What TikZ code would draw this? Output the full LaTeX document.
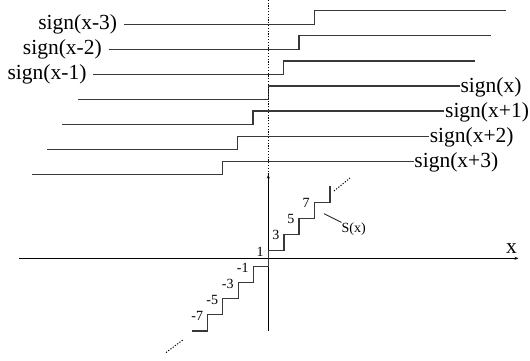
\documentclass[tikz,border=0pt]{standalone}
\usepackage{fontspec}
\setmainfont{Liberation Serif}
\usetikzlibrary{arrows.meta}
\begin{document}
\begin{tikzpicture}[x=1pt,y=-1pt,
  stepline/.style={line width=1.3pt, draw=black!78, line join=miter},
  axisline/.style={line width=1.2pt, draw=black},
  biglabel/.style={font=\fontsize{21.5}{24}\selectfont, inner sep=0pt},
  smalllabel/.style={font=\fontsize{14}{16}\selectfont, inner sep=0pt, anchor=east},
  dotline/.style={line width=1pt, dash pattern=on 1.2pt off 1.6pt},
  pointer/.style={line width=0.9pt, draw=black!85}]
\useasboundingbox (0,0) rectangle (530,360);

% step functions sign(x-k)
\foreach \i/\k/\txt in {1/3/{sign(x-3)},2/2/{sign(x-2)},3/1/{sign(x-1)},4/0/{sign(x)},5/-1/{sign(x+1)},6/-2/{sign(x+2)},7/-3/{sign(x+3)}}{
  \pgfmathsetmacro\sx{268.3+15.35*\k}
  \pgfmathsetmacro\ly{99.5-25.1*\k}
  \pgfmathsetmacro\hy{\ly-13.5}
  \coordinate (L\i) at (\sx-190.5,\ly);
  \coordinate (S\i) at (\sx,\ly);
  \coordinate (T\i) at (\sx,\hy);
  \coordinate (R\i) at (\sx+191.5,\hy);
  \draw[stepline] (L\i) -- (S\i) -- (T\i) -- (R\i);
  \ifnum\k>0
    \node[biglabel,anchor=east] (lab\i) at ([xshift=-6.5pt]L\i) {\txt};
  \else
    \node[biglabel,anchor=west] (lab\i) at ([xshift=0.5pt,yshift=-1pt]R\i) {\txt};
  \fi
}

% axes
\coordinate (xl) at (19.3,258.3);
\coordinate (xr) at (518.5,258.3);
\coordinate (yb) at (268.3,330.7);
\coordinate (yt) at (268.3,174.5);
\coordinate (dtop) at (268.3,0);
\draw[axisline,-{Stealth[length=4pt,width=3pt]}] (xl) -- (xr);
\draw[axisline,-{Stealth[length=4pt,width=3pt]}] (yb) -- (yt);
\draw[dotline] (yt) -- (dtop);
\node[biglabel] (xlab) at (511.5,248.3) {x};

% staircase S(x)
\draw[stepline] (192.3,330.9) -- (207.7,330.9) -- (207.7,314.8) -- (222.7,314.8)
  -- (222.7,298.7) -- (238.3,298.7) -- (238.3,282.6) -- (253.3,282.6)
  -- (253.3,266.5) -- (268.3,266.5) -- (268.3,250.5) -- (284,250.5)
  -- (284,234.4) -- (299,234.4) -- (299,218.3) -- (314.3,218.3)
  -- (314.3,202.2) -- (330,202.2) -- (330,186.1);

\node[smalllabel] (p1) at (263.8,251.5) {1};
\node[smalllabel] (p3) at (279.5,235.4) {3};
\node[smalllabel] (p5) at (294.5,219.3) {5};
\node[smalllabel] (p7) at (309.8,203.2) {7};
\node[smalllabel] (m1) at (248.8,268) {-1};
\node[smalllabel] (m3) at (233.8,284) {-3};
\node[smalllabel] (m5) at (218.2,300) {-5};
\node[smalllabel] (m7) at (203.2,315.8) {-7};

% continuation dots
\coordinate (ta) at (334,191);
\coordinate (tb) at (350,178);
\coordinate (ba) at (166,352.5);
\coordinate (bb) at (183.5,339.5);
\draw[dotline] (ta) -- (tb);
\draw[dotline] (ba) -- (bb);

% S(x) label
\node[font=\fontsize{14}{16}\selectfont, inner sep=0pt, anchor=west] (Sx) at (341.5,229) {S(x)};
\coordinate (ptr) at (324,213.7);
\draw[pointer] (ptr) -- (Sx.north west);
\end{tikzpicture}
\end{document}
